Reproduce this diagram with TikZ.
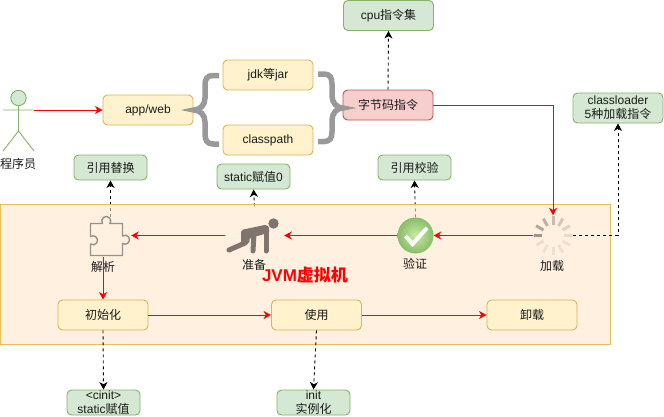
\documentclass[tikz,border=0pt]{standalone}
\usepackage{fontspec}
\setmainfont{Liberation Sans}
\newfontfamily\cjkf{Noto Sans CJK SC}
\newcommand{\C}[1]{{\cjkf #1}}
\usetikzlibrary{arrows.meta,calc}
\definecolor{gf}{HTML}{D5E8D4}\definecolor{gd}{HTML}{82B366}
\definecolor{yf}{HTML}{FFF2CC}\definecolor{yd}{HTML}{D6B656}
\definecolor{rf}{HTML}{F8CECC}\definecolor{rd}{HTML}{B85450}
\definecolor{cf}{HTML}{FFE6CC}\definecolor{cd}{HTML}{E6BE5A}
\definecolor{tx}{HTML}{1A1A1A}
\definecolor{bgc}{HTML}{FFF0E3}
\definecolor{chkin}{HTML}{CCE8A8}\definecolor{chkout}{HTML}{86BE68}
\definecolor{iconc}{HTML}{7D756E}
\tikzset{
 x=1pt,y=-1pt,
 every node/.style={font=\fontsize{12}{14}\selectfont,text=tx,inner sep=0pt,align=center},
 boxbase/.style={draw,rounded corners=4.5pt,line width=.9pt},
 green box/.style={boxbase,fill=gf,draw=gd,minimum width=73pt,minimum height=25pt},
 green wide/.style={boxbase,fill=gf,draw=gd,minimum width=90pt,minimum height=30pt},
 yellow box/.style={boxbase,fill=yf,draw=yd,minimum width=90pt,minimum height=30pt},
 red box/.style={boxbase,fill=rf,draw=rd,minimum width=90pt,minimum height=30pt},
 flow/.style={draw=red,line width=1pt,-{Stealth[length=7.5pt,width=8pt,inset=2.2pt]}},
 link/.style={draw=black,line width=.9pt,dash pattern=on 3pt off 3pt,-{Stealth[length=7.5pt,width=8pt,inset=2.2pt]}},
 brace/.style={draw=black!40,line width=5.5pt},
}
\begin{document}
\begin{tikzpicture}
\useasboundingbox (0,0) rectangle (664,416);
% icon areas (invisible named nodes)
\node[minimum width=41pt,minimum height=36pt] (puz) at (110.5,235.5) {};
\node[minimum width=59pt,minimum height=58pt] (prep) at (254.5,235.5) {};
\node[minimum width=36pt,minimum height=36pt] (chk) at (415.5,235.5) {};
\node[minimum width=40pt,minimum height=40pt] (spin) at (553,235.5) {};
% boxes
\node[green box] (rep) at (110.5,167.5) {\C{引用替换}};
\node[green box] (sta) at (253.5,176.5) {static\C{赋值}0};
\node[green box] (ver) at (414.5,167.5) {\C{引用校验}};
% links that pass under the container
\draw[link] (puz.north) -- (rep.south);
\draw[link] (prep.north) -- (sta.south);
\draw[link] (chk.north) -- (ver.south);
% container
\node[draw=cd,fill=cf,fill opacity=.6,draw opacity=1,line width=.9pt,minimum width=610.5pt,minimum height=140pt] (jvm) at (305.25,274.5) {};
% top boxes
\node[green wide] (cpu) at (388.5,15.5) {cpu\C{指令集}};
\node[red box] (bc) at (388,105) {\C{字节码指令}};
\node[green wide] (cl) at (618,108) {classloader\\5\C{种加载指令}};
\node[yellow box] (app) at (148,110) {app/web};
\node[yellow box] (jdk) at (268,75) {jdk\C{等}jar};
\node[yellow box] (cp) at (268,140) {classpath};
\node[yellow box] (ini) at (103,315) {\C{初始化}};
\node[yellow box] (use) at (316.5,315) {\C{使用}};
\node[yellow box] (unl) at (532,315) {\C{卸载}};
\node[green box] (cin) at (103.5,402.5) {<cinit>\\static\C{赋值}};
\node[green box] (ins) at (313.5,402.5) {init\\\C{实例化}};
% labels
\node (lact) at (18,164) {\C{程序员}};
\node (lpuz) at (103,267) {\C{解析}};
\node (lpre) at (254,265) {\C{准备}};
\node (lchk) at (415,264) {\C{验证}};
\node (lspi) at (552,266) {\C{加载}};
\node[font=\fontsize{17}{19}\selectfont\bfseries,text=red] (ljvm) at (305,275) {JVM\C{虚拟机}};
% actor
\draw[gd,fill=gf,line width=.9pt] (18.5,98) circle (7.7);
\draw[gd,line width=.9pt] (18.5,105.7) -- (18.5,131) (3,110) -- (34,110) (3,151) -- (18.5,131) -- (34,151);
\coordinate (arm) at (34,110);
\coordinate (puzb) at (103,257);
% braces
\draw[brace] (219,75.5) -- (213,75.5) .. controls (207,75.5) and (205,79) .. (205,85) -- (205,98) .. controls (205,105) and (200,110) .. (194,110) .. controls (200,110) and (205,115) .. (205,122) -- (205,134) .. controls (205,140) and (207,144) .. (213,144) -- (219,144);
\draw[brace] (318,74) -- (324,74) .. controls (330,74) and (332,78) .. (332,84) -- (332,96) .. controls (332,103) and (337,108) .. (343,108) .. controls (337,108) and (332,113) .. (332,120) -- (332,132) .. controls (332,138) and (330,141.5) .. (324,141.5) -- (318,141.5);
% puzzle icon
\draw[iconc!80!white,line width=1.4pt,line join=round] (90.5,223.5) -- (102.5,223.5) arc[start angle=145,end angle=395,radius=4.5] -- (122.5,223.5) -- (122.5,236) arc[start angle=-125,end angle=125,radius=4.5] -- (122.5,255.5) -- (90.5,255.5) -- (90.5,244) arc[start angle=125,end angle=-125,radius=4.5] -- cycle;
% person icon
\fill[iconc] (273.5,223.5) circle (5.2);
\fill[iconc,rounded corners=2pt] (241,230) -- (267,224.5) -- (270,232) -- (258,236) -- (250,237) -- (249,244) -- (241,245) -- cycle;
\draw[iconc,line width=5pt,line cap=round,line join=round] (229,250) -- (245,243);
\draw[iconc,line width=5pt,line cap=round,line join=round] (266,228) -- (266,251);
\draw[iconc,line width=5pt,line cap=round,line join=round] (254,233) -- (253,251);
% check icon
\shade[inner color=chkin,outer color=chkout] (chk.center) circle (18);
\draw[white,line width=4pt] (405.5,236) -- (412.5,244) -- (427,228);
% spinner
\foreach \a/\o in {180/75,210/60,240/50,270/42,300/34,330/26,0/18,30/14,60/14,90/14,120/14,150/16}{
  \draw[iconc!\o!bgc,line width=3pt] ($(spin.center)+(\a:11)$) -- ($(spin.center)+(\a:19.5)$);
}
% connectors
\draw[flow] (arm) -- (app.west);
\draw[flow] (bc.east) -| (spin.north);
\draw[flow] (spin.west) -- (chk.east);
\draw[flow] (chk.west) -- (prep.east);
\draw[flow] (prep.west) -- (puz.east);
\draw[flow] (puzb) -- (ini.north);
\draw[flow] (ini.east) -- (use.west);
\draw[flow] (use.east) -- (unl.west);
\draw[link] (bc.north) -- (cpu.south);
\draw[link] (spin.east) -| (cl.south);
\draw[link] (ini.south) -- (cin.north);
\draw[link] (use.south) -- (ins.north);
\end{tikzpicture}
\end{document}
